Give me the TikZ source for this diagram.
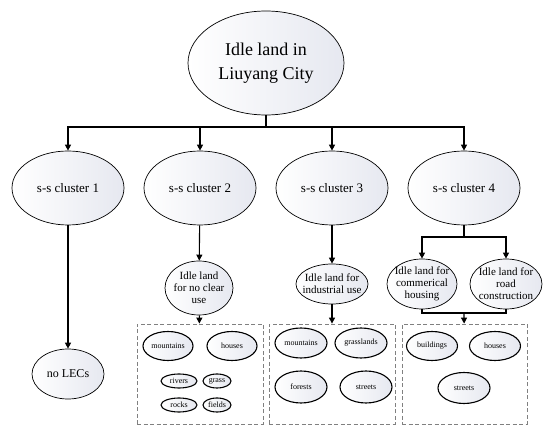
\documentclass[tikz,border=0pt]{standalone}
\usepackage{fontspec}
\setmainfont{Liberation Serif}
\usetikzlibrary{arrows.meta,shapes.geometric,positioning}
\definecolor{ellfill}{RGB}{230,232,240}

\begin{document}
\begin{tikzpicture}[
    x = 1pt, y = -1pt, % pixel-like units, y going down
    > = {Triangle[length=6pt,width=6pt]}, % arrow head style
    link/.style = {line width=1.1pt},
    semithick % line style
    ]

    \tikzset{
    blob/.style = {
    ellipse, draw = black, line width = 0.7pt,
    left color = white, right color = ellfill,
    inner xsep = -20pt, inner ysep = -20pt,
    align = center
    },
    tiny/.style = {blob, line width = 1.1pt, font = \fontsize{8}{9}\selectfont},
    group/.style = {draw = gray, dash pattern = on 4pt off 2.5pt, line width = 0.8pt,
    minimum width = 126pt, minimum height = 100pt}
    }
    \useasboundingbox (0,0) rectangle (550,433);

    % root and clusters
    \node[blob, minimum width=156pt, minimum height=104pt,
      font=\fontsize{18}{24}\selectfont] (city) at (266,63) {Idle land in\\Liuyang City};
    \node[blob, minimum width=112pt, minimum height=74pt,
      font=\fontsize{13}{15}\selectfont] (c1) at (68,188) {s-s cluster 1};
    \node[blob, minimum width=112pt, minimum height=74pt,
      font=\fontsize{13}{15}\selectfont] (c2) at (200,188) {s-s cluster 2};
    \node[blob, minimum width=112pt, minimum height=74pt,
      font=\fontsize{13}{15}\selectfont] (c3) at (332,188) {s-s cluster 3};
    \node[blob, minimum width=112pt, minimum height=74pt,
      font=\fontsize{13}{15}\selectfont] (c4) at (464,188) {s-s cluster 4};

    % second level
    \node[blob, minimum width=72pt, minimum height=50pt,
      font=\fontsize{12}{14}\selectfont] (nolec) at (68,374) {no LECs};
    \node[blob, minimum width=68pt, minimum height=54pt,
      font=\fontsize{11}{12}\selectfont] (noclear) at (199,288) {Idle land\\for no clear\\use};
    \node[blob, minimum width=72pt, minimum height=40pt,
      font=\fontsize{11}{12}\selectfont] (indus) at (332,284) {Idle land for\\industrial use};
    \node[blob, minimum width=70pt, minimum height=50pt,
      font=\fontsize{11}{12}\selectfont] (comm) at (422,284) {Idle land for\\commerical\\housing};
    \node[blob, minimum width=72pt, minimum height=50pt,
      font=\fontsize{11}{12}\selectfont] (road) at (506,284) {Idle land for\\road\\construction};

    % dashed groups
    \node[group] (g2) at (200,374) {};
    \node[group] (g3) at (332,374) {};
    \node[group, minimum width=125pt] (g4) at (464.5,374) {};

    \node[tiny, minimum width=50pt, minimum height=29pt] (m2) at (168,346) {mountains};
    \node[tiny, minimum width=50pt, minimum height=29pt] (h2) at (232,346) {houses};
    \node[tiny, minimum width=36pt, minimum height=14pt] (rv2) at (179,381) {rivers};
    \node[tiny, minimum width=28pt, minimum height=14pt] (gr2) at (217,381) {grass};
    \node[tiny, minimum width=36pt, minimum height=14pt] (rk2) at (179,405) {rocks};
    \node[tiny, minimum width=28pt, minimum height=14pt] (f2) at (217,405) {fields};

    \node[tiny, minimum width=52pt, minimum height=30pt] (m3) at (301,343) {mountains};
    \node[tiny, minimum width=52pt, minimum height=30pt] (gl3) at (361,343) {grasslands};
    \node[tiny, minimum width=52pt, minimum height=32pt] (f3) at (301,387) {forests};
    \node[tiny, minimum width=52pt, minimum height=32pt] (s3) at (366,387) {streets};

    \node[tiny, minimum width=51pt, minimum height=29pt] (b4) at (432,346) {buildings};
    \node[tiny, minimum width=51pt, minimum height=29pt] (h4) at (495,346) {houses};
    \node[tiny, minimum width=52pt, minimum height=31pt] (s4) at (464,388) {streets};

    % connectors
    \coordinate (split) at (266,127);
    \coordinate (split4) at (464,237);
    \coordinate (merge4) at (464,313);

    \draw[link] (city) -- (split);
    \foreach \c in {c1,c2,c3,c4}
      \draw[link,->] (split) -| (\c);
    \draw[link,->] (c1) -- (nolec);
    \draw[link,->] (c2) -- (noclear);
    \draw[link,->] (c3) -- (indus);
    \draw[link] (c4) -- (split4);
    \draw[link,->] (split4) -| (comm);
    \draw[link,->] (split4) -| (road);
    \draw[link,->] (noclear) -- (g2);
    \draw[link,->] (indus) -- (g3);
    \draw[link] (comm.south) |- (merge4) -| (road.south);
    \draw[link,->] (merge4) -- (g4);
\end{tikzpicture}
\end{document}
